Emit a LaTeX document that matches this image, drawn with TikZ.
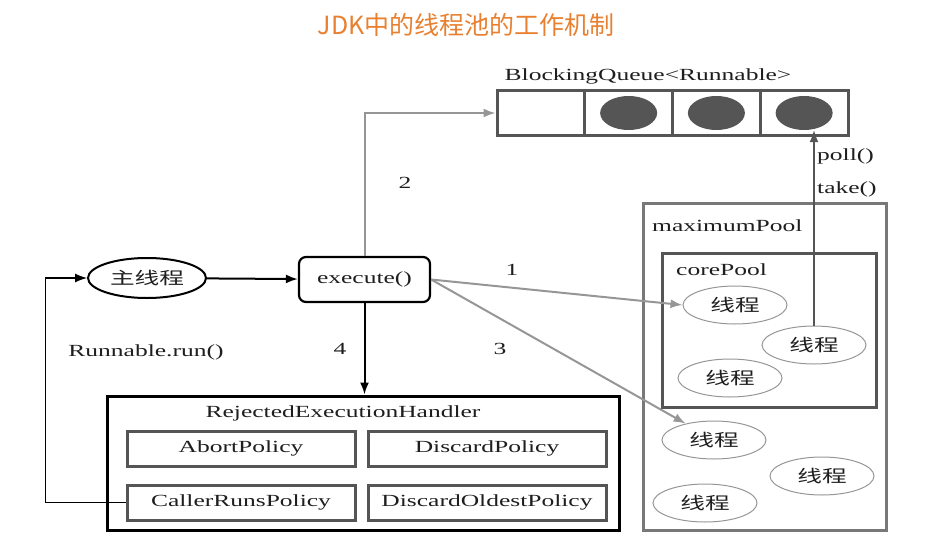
\documentclass[tikz,border=0pt]{standalone}
\usepackage{fontspec}
\setmainfont{Liberation Serif}[FakeStretch=1.5]
\newfontfamily\cjk{Noto Sans CJK SC}[FakeStretch=1.45]
\newfontfamily\titlefont{Noto Sans CJK SC}
\usepackage{tikz}
\usetikzlibrary{positioning,shapes.geometric,arrows.meta}
\definecolor{titleorange}{RGB}{232,128,48}
\definecolor{boxgray}{RGB}{85,85,85}
\definecolor{poolgray}{RGB}{120,120,120}
\definecolor{arrowgray}{RGB}{150,150,150}
\definecolor{textgray}{RGB}{30,30,30}

\begin{document}
\begin{tikzpicture} [x=1pt, y=-1pt, auto,
    every node/.style={font=\fontsize{17}{17}\selectfont, text=textgray},
    cell/.style={rectangle,draw=boxgray,line width=3pt,minimum width=87.75pt,minimum height=45pt,inner sep=0pt},
    dot/.style={ellipse,fill=boxgray,minimum width=57pt,minimum height=34pt,inner sep=0pt},
    thread/.style={ellipse,draw=arrowgray,line width=1pt,minimum width=104pt,minimum height=38pt,inner sep=0pt,font=\cjk\fontsize{17}{17}\selectfont},
    policy/.style={rectangle,draw=boxgray,line width=3pt,minimum width=228pt,minimum height=35pt,inner sep=0pt},
    pool/.style={rectangle,draw=poolgray,line width=3pt,inner sep=0pt},
    tag/.style={inner sep=0pt},
    tip/.style={-{Latex[length=12pt,width=9pt]}},
    grayline/.style={draw=arrowgray,line width=2pt,tip},
    blackline/.style={draw=black,line width=2pt,tip}]

\useasboundingbox (0,0) rectangle (925,543);

\node[font=\titlefont\fontsize{25}{25}\selectfont, text=titleorange] (title) at (466,25) {JDK中的线程池的工作机制};

% queue
\foreach \i in {1,...,4}
    \node[cell] (q\i) at ({497+87.75*(\i-0.5)},113) {};
\foreach \i in {2,...,4}
    \node[dot] (d\i) at (q\i) {};
\node[tag] (queue) at (648,76) {BlockingQueue<Runnable>};

% main thread and execute()
\node[ellipse,draw=black,line width=2pt,minimum width=118pt,minimum height=40pt,inner sep=0pt,
      font=\cjk\fontsize{17}{17}\selectfont] (main) at (147,278) {主线程};
\node[rectangle,rounded corners=7pt,draw=black,line width=2.2pt,minimum width=131pt,minimum height=45pt] (exec) at (364.5,279.5) {execute()};

% rejected handler
\node[rectangle,draw=black,line width=3pt,minimum width=512pt,minimum height=134pt] (rej) at (363,463) {};
\node[tag] (rejtitle) at (343,413) {RejectedExecutionHandler};
\node[policy] (abort) at (241,448.5) {AbortPolicy};
\node[policy,minimum width=238pt] (discard) at (487,448.5) {DiscardPolicy};
\node[policy] (caller) at (241,502.5) {CallerRunsPolicy};
\node[policy,minimum width=238pt] (oldest) at (487,502.5) {DiscardOldestPolicy};

% pools
\node[pool,minimum width=243pt,minimum height=327pt] (maxpool) at (764.5,366.5) {};
\node[tag,anchor=west] (maxtitle) at (652,226) {maximumPool};
\node[pool,draw=boxgray,minimum width=214pt,minimum height=154pt] (corepool) at (769,330) {};
\node[tag,anchor=west] (coretitle) at (676,270) {corePool};

\node[thread] (t1) at (735,305) {线程};
\node[thread] (t2) at (814,345) {线程};
\node[thread] (t3) at (730,378) {线程};
\node[thread] (t4) at (714,440) {线程};
\node[thread] (t5) at (822,476) {线程};
\node[thread] (t6) at (705,503) {线程};

% connectors
\draw[blackline] (main) -- (exec);
\draw[blackline] (exec.south) -- (exec.south |- rej.north);
\draw[grayline] (exec.east) -- (t1.west);
\draw[grayline] (exec.east) -- (t4.150);
\draw[grayline] (exec.north) |- (q1.west);
\draw[draw=boxgray,line width=1.2pt,tip] (t2.north) -- (t2.north |- d4.south);
\draw[draw=black,line width=1.2pt,tip] (caller.west) -- ++(-80,0) |- (main.west);

\node[tag] (n1) at (512,270) {1};
\node[tag] (n2) at (405,183) {2};
\node[tag] (n3) at (500,349) {3};
\node[tag] (n4) at (340,349) {4};
\node[tag] (run) at (146,352) {Runnable.run()};
\node[tag,anchor=west] (poll) at (817,156) {poll()};
\node[tag,anchor=west] (take) at (817,189) {take()};
\end{tikzpicture}
\end{document}
